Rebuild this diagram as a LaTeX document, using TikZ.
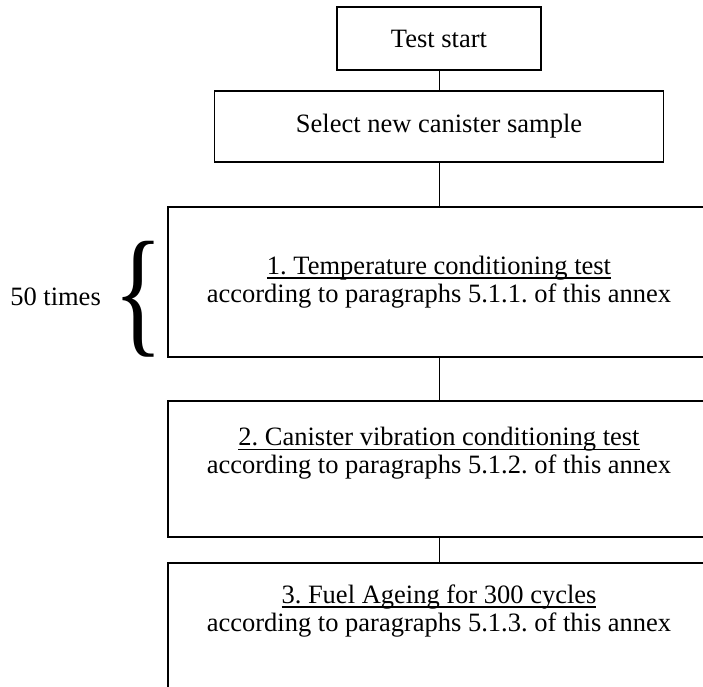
\documentclass[tikz,border=0pt]{standalone}
\usepackage{fontspec}
\setmainfont{Liberation Serif}
\usepackage{graphicx}
\usepackage{tikz}
\newcommand{\ultext}[1]{\setbox0\hbox{#1}\rlap{\rule[-4.2pt]{\wd0}{1.4pt}}\box0}
\tikzset{
  box/.style={draw,line width=1.6pt,rectangle,minimum width=542pt,inner sep=0pt},
  boxtext/.style={font=\fontsize{26.5}{28}\selectfont\frenchspacing,align=center,inner sep=0pt},
  link/.style={line width=0.9pt}
}
\begin{document}
\begin{tikzpicture}[x=1pt,y=1pt]
  \clip(0,0)rectangle(703,686);
  \node[box,boxtext,minimum width=204pt,minimum height=63pt](start)at(439,647.5){Test start};
  \node[box,boxtext,minimum width=449pt,minimum height=71pt](select)at(439,559.5){Select new canister sample};
  \node[box,boxtext,minimum height=150pt](test1)at(439,404)
    {\ultext{1. Temperature conditioning test}\\according to paragraphs 5.1.1. of this annex};
  \node[box,minimum height=136pt](test2)at(439,217){};
  \node[boxtext,anchor=north](test2txt)at([yshift=-27pt]test2.north)
    {\ultext{2. Canister vibration conditioning test}\\according to paragraphs 5.1.2. of this annex};
  \node[box,minimum height=160pt](test3)at(439,43){};
  \node[boxtext,anchor=north](test3txt)at([yshift=-22.5pt]test3.north)
    {\ultext{3. Fuel Ageing for 300 cycles}\\according to paragraphs 5.1.3. of this annex};
  \node[inner sep=0pt](brace)at(138.5,386.5){\resizebox*{50pt}{116pt}{\{}};
  \node[boxtext,anchor=base east](times)at(101,381){50 times};
  \draw[link](start.south)--(select.north);
  \draw[link](select.south)--(test1.north);
  \draw[link](test1.south)--(test2.north);
  \draw[link](test2.south)--(test3.north);
\end{tikzpicture}
\end{document}
